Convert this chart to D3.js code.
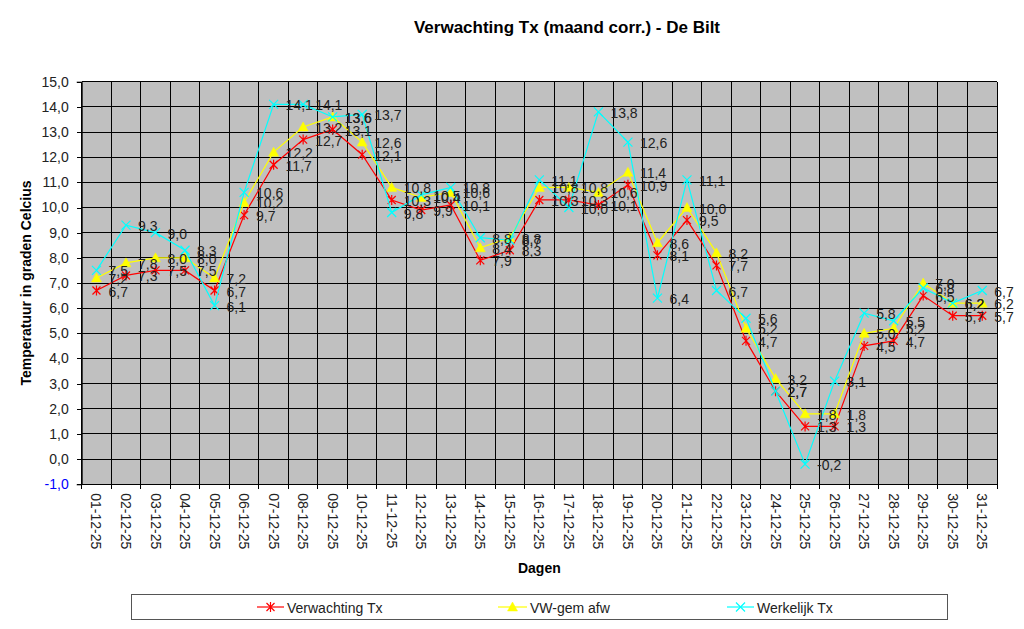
<!DOCTYPE html>
<html>
<head>
<meta charset="utf-8">
<script src="https://cdn.jsdelivr.net/npm/d3@7"></script>
<style>
  html, body { margin: 0; padding: 0; background: #fff; }
  svg { display: block; font-family: "Liberation Sans", Arial, sans-serif; }
</style>
</head>
<body>
<svg id="chart" width="1024" height="629"></svg>
<script>
const days = ["01-12-25","02-12-25","03-12-25","04-12-25","05-12-25","06-12-25","07-12-25","08-12-25",
  "09-12-25","10-12-25","11-12-25","12-12-25","13-12-25","14-12-25","15-12-25","16-12-25",
  "17-12-25","18-12-25","19-12-25","20-12-25","21-12-25","22-12-25","23-12-25","24-12-25",
  "25-12-25","26-12-25","27-12-25","28-12-25","29-12-25","30-12-25","31-12-25"];
const verwachting = [6.7,7.3,7.5,7.5,6.7,9.7,11.7,12.7,13.1,12.1,10.3,9.9,10.1,7.9,8.3,10.3,
  10.3,10.1,10.9,8.1,9.5,7.7,4.7,2.7,1.3,1.3,4.5,4.7,6.5,5.7,5.7];
const vwGemAfw = [7.2,7.8,8.0,8.0,7.2,10.2,12.2,13.2,13.6,12.6,10.8,10.4,10.6,8.4,8.8,10.8,
  10.8,10.6,11.4,8.6,10.0,8.2,5.2,3.2,1.8,1.8,5.0,5.2,7.0,6.2,6.2];
const werkelijk = [7.5,9.3,9.0,8.3,6.1,10.6,14.1,14.1,13.6,13.7,9.8,10.5,10.8,8.8,8.7,11.1,
  10.0,13.8,12.6,6.4,11.1,6.7,5.6,2.7,-0.2,3.1,5.8,5.5,6.8,6.2,6.7];
const yTicks = [-1,0,1,2,3,4,5,6,7,8,9,10,11,12,13,14,15];
const seriesNames = ["Verwachting Tx", "VW-gem afw", "Werkelijk Tx"];
const titleText = "Verwachting Tx (maand corr.) - De Bilt";
const yTitle = "Temperatuur in graden Celcius";
const xTitle = "Dagen";

const svg = d3.select("#chart");
const L = 81.7, R = 997, T = 81.7, B = 484.3;
const x = d3.scaleBand().domain(days).range([L, R]).padding(0);
const y = d3.scaleLinear().domain([-1, 15]).range([B, T]);
const fmt = v => d3.format(".1f")(v).replace(".", ",").replace("−", "-");

// plot background
svg.append("rect").attr("x", L).attr("y", T).attr("width", R - L).attr("height", B - T).attr("fill", "#C0C0C0");

// horizontal grid
svg.append("g").selectAll("line").data(yTicks).join("line")
  .attr("x1", L).attr("x2", R).attr("y1", d => y(d)).attr("y2", d => y(d))
  .attr("stroke", "#000").attr("stroke-width", 1).attr("shape-rendering", "crispEdges");
// vertical grid at category boundaries
const bounds = days.map(d => x(d)).concat([R]);
svg.append("g").selectAll("line").data(bounds).join("line")
  .attr("x1", d => d).attr("x2", d => d).attr("y1", T).attr("y2", B)
  .attr("stroke", "#000").attr("stroke-width", 1).attr("shape-rendering", "crispEdges");

// y axis
const yAxis = d3.axisLeft(y).tickValues(yTicks).tickSize(5).tickPadding(8).tickFormat(fmt);
const gy = svg.append("g").attr("transform", `translate(${L},0)`).call(yAxis);
gy.select(".domain").attr("stroke", "#000");
gy.selectAll(".tick line").attr("stroke", "#000").attr("shape-rendering", "crispEdges");
gy.selectAll(".tick text").attr("font-size", 14).attr("font-family", "Liberation Sans, Arial, sans-serif")
  .attr("fill", d => d < 0 ? "#0000FF" : "#222");

// x axis: ticks at boundaries
const gx = svg.append("g");
gx.append("line").attr("x1", L).attr("x2", R).attr("y1", B).attr("y2", B).attr("stroke", "#000").attr("shape-rendering", "crispEdges");
gx.selectAll("line.t").data(bounds).join("line").attr("class", "t")
  .attr("x1", d => d).attr("x2", d => d).attr("y1", B).attr("y2", B + 5)
  .attr("stroke", "#000").attr("shape-rendering", "crispEdges");
gx.selectAll("text").data(days).join("text")
  .attr("transform", d => `translate(${x(d) + x.bandwidth() / 2},${B + 9}) rotate(90)`)
  .attr("text-anchor", "start").attr("dominant-baseline", "central")
  .attr("font-size", 14).attr("fill", "#222").text(d => d);

// titles
svg.append("text").attr("x", 567).attr("y", 33).attr("text-anchor", "middle")
  .attr("font-size", 17).attr("font-weight", "bold").attr("fill", "#000").text(titleText);
svg.append("text").attr("transform", "translate(31,283) rotate(-90)").attr("text-anchor", "middle")
  .attr("font-size", 14).attr("font-weight", "bold").attr("fill", "#000").text(yTitle);
svg.append("text").attr("x", (L + R) / 2).attr("y", 573).attr("text-anchor", "middle")
  .attr("font-size", 14).attr("font-weight", "bold").attr("fill", "#000").text(xTitle);

// series
const colors = ["#FF0000", "#FFFF00", "#00FFFF"];
const allSeries = [verwachting, vwGemAfw, werkelijk];
const cx = i => x(days[i]) + x.bandwidth() / 2;

function marker(g, type, px, py, color) {
  if (type === 0) { // asterisk
    const s = 4;
    g.append("path").attr("d", `M${px - s},${py - s}L${px + s},${py + s}M${px - s},${py + s}L${px + s},${py - s}M${px},${py - s - 1}L${px},${py + s + 1}`)
      .attr("stroke", color).attr("stroke-width", 1.2).attr("fill", "none");
  } else if (type === 1) { // triangle
    const s = 5;
    g.append("path").attr("d", `M${px},${py - s}L${px + s},${py + s - 1}L${px - s},${py + s - 1}Z`)
      .attr("fill", color).attr("stroke", color).attr("stroke-width", 0.5);
  } else { // x
    const s = 4.5;
    g.append("path").attr("d", `M${px - s},${py - s}L${px + s},${py + s}M${px - s},${py + s}L${px + s},${py - s}`)
      .attr("stroke", color).attr("stroke-width", 1.2).attr("fill", "none");
  }
}

const line = d3.line().x((d, i) => cx(i)).y(d => y(d));
allSeries.forEach((vals, si) => {
  const g = svg.append("g");
  g.append("path").datum(vals).attr("d", line).attr("fill", "none")
    .attr("stroke", colors[si]).attr("stroke-width", 1.2);
  vals.forEach((v, i) => marker(g, si, cx(i), y(v), colors[si]));
});

// data labels
const lg = svg.append("g");
allSeries.forEach((vals) => {
  lg.selectAll(null).data(vals).join("text")
    .attr("x", (d, i) => cx(i) + 12).attr("y", d => y(d) + 1)
    .attr("dominant-baseline", "central").attr("font-size", 14).attr("fill", "#222")
    .text(d => fmt(d));
});

// legend
const leg = svg.append("g");
leg.append("rect").attr("x", 131.5).attr("y", 594.5).attr("width", 816).attr("height", 25)
  .attr("fill", "#fff").attr("stroke", "#555").attr("stroke-width", 1);
const legPos = [{x1: 257, x2: 284, tx: 287}, {x1: 498, x2: 527, tx: 530}, {x1: 727, x2: 754, tx: 757}];
seriesNames.forEach((name, i) => {
  const p = legPos[i], ly = 607;
  leg.append("line").attr("x1", p.x1).attr("x2", p.x2).attr("y1", ly).attr("y2", ly)
    .attr("stroke", colors[i]).attr("stroke-width", 1.2);
  marker(leg, i, (p.x1 + p.x2) / 2, ly, colors[i]);
  leg.append("text").attr("x", p.tx).attr("y", ly + 1).attr("dominant-baseline", "central")
    .attr("font-size", 14).attr("fill", "#222").text(name);
});
</script>
</body>
</html>
